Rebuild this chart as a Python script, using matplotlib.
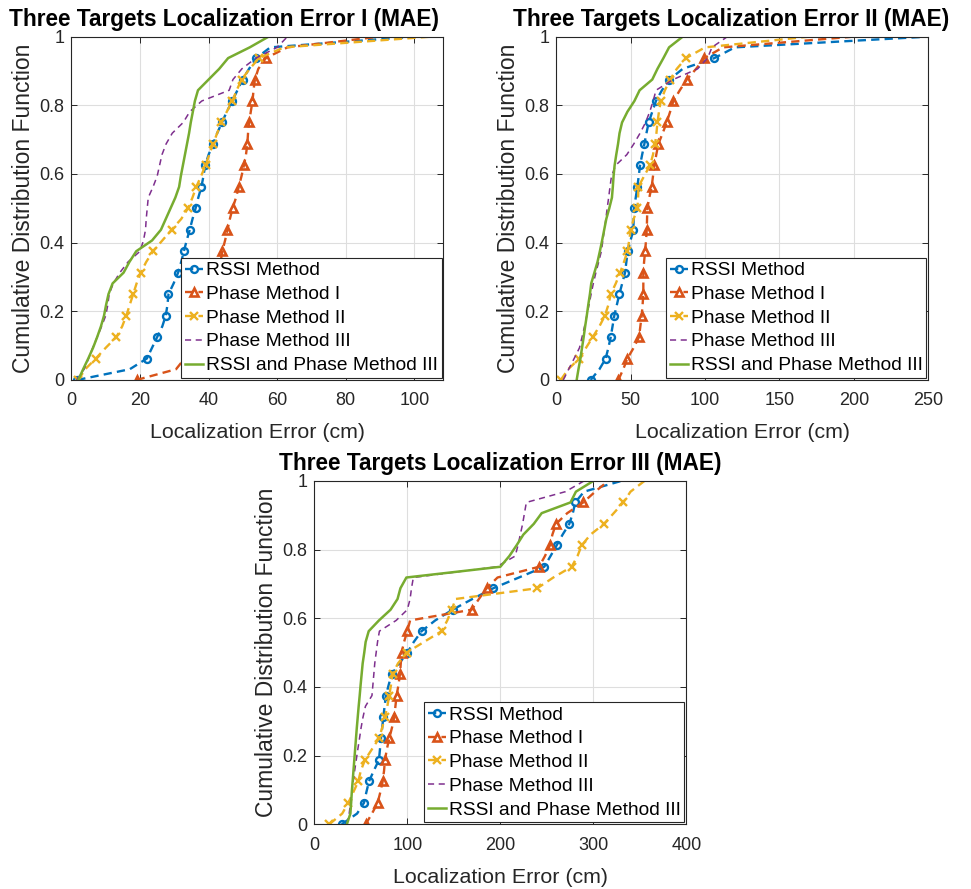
import matplotlib.pyplot as plt
import numpy as np

plt.rcParams['font.family'] = ['Liberation Sans', 'DejaVu Sans']

# sorted localization errors (cm), one value per CDF step k/32
# --- scenario I ---
rssi_1 = [1.7, 17, 22, 23.5, 25, 26.5, 27.5, 28, 28.3, 29.8, 31.1, 32, 32.8, 33.6, 34.5, 35.3, 36.2,
          37, 37.9, 38.5, 39.0, 40, 41.3, 42.5, 43.9, 45.3, 46.9, 48.4, 49.9, 51.8, 53.9, 58, 100]
phase1_1 = [19, 30.5, 33, 35, 37, 38.3, 39.5, 40.5, 41.3, 42, 42.8, 43.5, 44, 44.8, 45.5, 46.2, 47,
            48, 48.8, 49.6, 50.3, 50.9, 51.3, 51.5, 51.8, 52.3, 52.8, 53.1, 53.5, 54.5, 56.7, 63, 90]
phase2_1 = [2, 4, 7.1, 10, 13.1, 14.8, 16, 17, 18, 19, 20.2, 21.8, 23.8, 26.5, 29.2, 32, 34,
            35.3, 36.4, 37.8, 39.1, 40.2, 41.3, 42.5, 43.7, 45.3, 46.9, 48.2, 49.6, 52, 54.7, 62, 105]
phase3_1 = [1.5, 3.7, 5.0, 6.2, 7.5, 8.8, 10.0, 10.6, 11.0, 12.2, 14.1, 16.5, 20.0, 21.0, 21.6, 21.8, 22.1,
            22.4, 23.8, 25.0, 25.7, 26.4, 27.6, 29.4, 32.6, 34.5, 38.0, 46.0, 47.1, 49.7, 53.8, 60, 63]
fused_1 = [2, 3.4, 4.9, 6.3, 7.5, 8.6, 9.5, 10.1, 10.8, 12.0, 15.2, 16.9, 18.9, 23.5, 26.1, 27.5, 28.9,
           30.3, 31.4, 31.9, 32.5, 33.1, 33.7, 34.3, 34.8, 35.4, 36.0, 36.9, 40.0, 43.1, 45.7, 52, 57.5]

# --- scenario II ---
rssi_2 = [23.1, 29, 33.2, 35, 36.6, 37.8, 39, 40.7, 42.4, 44.3, 46.2, 47.1, 48, 49.9, 51.8, 52, 52.3,
          53.4, 54.5, 55.4, 56.3, 57.7, 59.2, 60.6, 62.1, 64.5, 67, 71, 76, 85, 106.3, 120, 250]
phase1_2 = [41.7, 45, 47.8, 52, 55.6, 56.5, 57.4, 58, 58.5, 58.5, 58.5, 59, 59.7, 60.3, 60.8, 61, 61.2,
            62.5, 64.1, 65, 65.9, 67.2, 68.6, 71.5, 74.2, 76.5, 78.7, 83, 87.7, 94, 99.6, 112, 200]
phase2_2 = [3, 8, 15.5, 20, 24.5, 29, 32.7, 35, 36.6, 40, 42.9, 45.5, 47.8, 49, 50, 52, 54.5,
            55, 55.2, 59, 63, 65, 66.4, 67.3, 68, 69, 70.2, 73, 76.5, 81, 87.2, 100, 170]
phase3_2 = [4.7, 8.3, 12.0, 15.6, 17.3, 19.0, 20.5, 22.0, 23.4, 24.9, 26.6, 28.5, 30.3, 31.3, 32.3, 33.3, 34.2,
            35.2, 36.1, 37.1, 39.9, 47.4, 52.1, 56.3, 60, 62.8, 65.1, 67, 78.5, 95, 101.7, 104.6, 115]
fused_2 = [13.7, 14.9, 16.2, 17.3, 18.4, 19.4, 20.5, 21.5, 22.6, 23.5, 25.6, 27.7, 29.3, 30.8, 32.2, 33.6, 35.6,
           37.4, 38.0, 38.5, 39.2, 40.3, 41.5, 42.5, 44.2, 47.8, 52.5, 56.0, 64.5, 68.0, 72.0, 75.8, 85]

# --- scenario III ---
rssi_3 = [29.4, 46, 53.4, 56, 58.8, 64, 69.5, 70.6, 71.7, 73, 74.2, 75.6, 77, 80, 83.2, 91.5, 100,
          107, 115.4, 130, 148.7, 170, 192.5, 220, 247.3, 254, 260.6, 267, 274.2, 278, 280.6, 290, 330]
phase1_3 = [55.2, 62, 68.1, 71, 73.5, 75, 76, 78, 80.6, 83.5, 86, 87.2, 88.5, 90.5, 92.1, 93, 93.9,
            96.5, 100, 103, 169.2, 177, 185.3, 197, 241.6, 248, 253.4, 256, 259.9, 272, 289.2, 302, 316]
phase2_3 = [16.1, 30, 36.6, 42, 47.3, 50, 54.5, 62, 69.5, 73, 76, 78.5, 80.6, 82.5, 84.2, 90, 99.3,
            118, 136.9, 143, 147.7, 152, 239.8, 257, 276.7, 283, 287.5, 297, 311.5, 322, 332.3, 340, 355]
phase3_3 = [35, 37.5, 39, 40.4, 41.8, 43.4, 45.1, 46.8, 48.6, 50.3, 52.4, 55, 62, 63, 64, 65, 66.5,
            68, 70, 88, 100, 103, 104.5, 106.5, 196, 216, 219, 221.5, 224, 226, 228, 270, 290]
fused_3 = [35, 38.8, 39.6, 40.3, 41.2, 42.1, 43, 43.9, 44.8, 45.7, 46.7, 47.7, 48.8, 49.8, 50.9, 52.0, 53.7,
           55.2, 58.5, 69.5, 82, 89.5, 92.6, 99, 200, 209.7, 217.5, 224.8, 236, 244.5, 275.5, 281.3, 300]

labels = ['RSSI Method', 'Phase Method I', 'Phase Method II', 'Phase Method III',
          'RSSI and Phase Method III']
titles = ['Three Targets Localization Error I (MAE)',
          'Three Targets Localization Error II (MAE)',
          'Three Targets Localization Error III (MAE)']

# matlab default colour order
blue, orange, yellow, purple, green = '#0072BD', '#D95319', '#EDB120', '#7E2F8E', '#77AC30'
styles = [
    dict(color=blue, ls='--', lw=1.7, marker='o', ms=5, mfc='none', mew=1.7),
    dict(color=orange, ls='--', lw=1.7, marker='^', ms=6.2, mfc='none', mew=1.9),
    dict(color=yellow, ls='--', lw=1.7, marker='x', ms=5.5, mew=1.7),
    dict(color=purple, ls='--', lw=1.1),
    dict(color=green, ls='-', lw=1.8),
]
dash = (3.5, 2.2)
axcol = '#262626'


def draw_cdf(ax, series, xmax, xticks, title, title_x):
    for errs, st, lab in zip(series, styles, labels):
        cdf = np.arange(len(errs)) / (len(errs) - 1)
        line, = ax.plot(errs, cdf, label=lab, markevery=list(range(0, len(errs) - 2, 2)), **st)
        if st['ls'] == '--':
            line.set_dashes(dash if 'marker' in st else (4, 3))
    ax.set_xlim(0, xmax)
    ax.set_ylim(0, 1)
    ax.set_xticks(xticks)
    ax.set_yticks([0, 0.2, 0.4, 0.6, 0.8, 1])
    ax.set_yticklabels(['0', '0.2', '0.4', '0.6', '0.8', '1'])
    ax.grid(True, color='#DEDEDE', lw=0.8)
    ax.set_axisbelow(True)
    ax.tick_params(direction='in', top=True, right=True, length=4, width=0.7,
                   labelsize=13, colors=axcol)
    ax.tick_params(axis='x', pad=9)
    ax.tick_params(axis='y', pad=5)
    for sp in ax.spines.values():
        sp.set_color(axcol)
        sp.set_linewidth(0.8)
    ax.set_title(title, fontsize=16.3, fontweight='bold', pad=8, x=title_x)
    ax.set_xlabel('Localization Error (cm)', fontsize=15.4, color=axcol, labelpad=10)
    ax.set_ylabel('Cumulative Distribution Function', fontsize=16.5, color=axcol, labelpad=3)
    leg = ax.legend(loc='lower right', fontsize=13.8, fancybox=False, framealpha=1,
                    edgecolor=axcol, borderaxespad=0.1, borderpad=0.2,
                    handlelength=0.95, handletextpad=0.15, labelspacing=0.33)
    leg.get_frame().set_linewidth(0.8)


fig = plt.figure(figsize=(9.71, 8.89), dpi=100)
ax1 = fig.add_axes([0.0736, 0.5726, 0.3831, 0.3862])
ax2 = fig.add_axes([0.5729, 0.5726, 0.3831, 0.3862])
ax3 = fig.add_axes([0.3237, 0.0728, 0.3831, 0.3862])

draw_cdf(ax1, [rssi_1, phase1_1, phase2_1, phase3_1, fused_1], 108.5, range(0, 101, 20),
         titles[0], 0.41)
draw_cdf(ax2, [rssi_2, phase1_2, phase2_2, phase3_2, fused_2], 250, range(0, 251, 50),
         titles[1], 0.47)
draw_cdf(ax3, [rssi_3, phase1_3, phase2_3, phase3_3, fused_3], 400, range(0, 401, 100),
         titles[2], 0.5)

fig.savefig('out.png', dpi=100)
